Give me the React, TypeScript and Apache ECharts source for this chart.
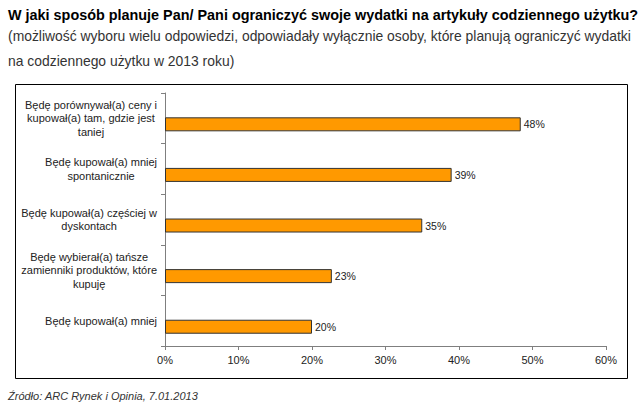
import React, { useEffect, useRef } from "react";
import * as echarts from "echarts";

const titleText = "W jaki sposób planuje Pan/ Pani ograniczyć swoje wydatki na artykuły codziennego użytku?";
const subtitleLines = [
  "(możliwość wyboru wielu odpowiedzi, odpowiadały wyłącznie osoby, które planują ograniczyć wydatki",
  "na codziennego użytku w 2013 roku)",
];
const sourceText = "Źródło: ARC Rynek i Opinia, 7.01.2013";

const categories = [
  "Będę porównywał(a) ceny i\nkupował(a) tam, gdzie jest\ntaniej",
  "Będę kupował(a) mniej\nspontanicznie",
  "Będę kupował(a) częściej w\ndyskontach",
  "Będę wybierał(a) tańsze\nzamienniki produktów, które\nkupuję",
  "Będę kupował(a) mniej",
];
const values = [48.4, 39, 35, 22.7, 20];
const xTicks = [0, 10, 20, 30, 40, 50, 60];

export default function App() {
  const ref = useRef<HTMLDivElement>(null);
  useEffect(() => {
    document.body.style.margin = "0";
    const chart = echarts.init(ref.current!, null, { renderer: "svg" });
    const font = "'Liberation Sans', Arial, sans-serif";
    chart.setOption({
      animation: false,
      backgroundColor: "#fff",
      textStyle: { fontFamily: font },
      grid: { left: 165, right: 34, top: 93, bottom: 58, containLabel: false },
      xAxis: {
        type: "value",
        min: xTicks[0],
        max: xTicks[xTicks.length - 1],
        interval: 10,
        axisLine: { show: true, lineStyle: { color: "#7f7f7f", width: 1 } },
        axisTick: { show: true, length: 4, lineStyle: { color: "#7f7f7f" } },
        splitLine: { show: false },
        axisLabel: {
          formatter: (v: number) => v + "%",
          color: "#222",
          fontSize: 11,
          margin: 8,
          fontFamily: font,
        },
      },
      yAxis: {
        type: "category",
        data: categories,
        inverse: true,
        axisLine: { show: true, lineStyle: { color: "#7f7f7f", width: 1 } },
        axisTick: { show: true, length: 4, lineStyle: { color: "#7f7f7f" } },
        axisLabel: {
          color: "#222",
          fontSize: 11,
          lineHeight: 13.5,
          margin: 8,
          fontFamily: font,
          formatter: (v: string) =>
            v
              .split("\n")
              .map((l) => "{c|" + l + "}")
              .join("\n"),
          rich: { c: { align: "center", fontSize: 11, lineHeight: 13.5, color: "#222", fontFamily: font } },
        },
      },
      series: [
        {
          type: "bar",
          name: "placeholder",
          data: values.map(() => "-"),
          barWidth: 14,
          barGap: "-14%",
          silent: true,
        },
        {
          type: "bar",
          name: "values",
          data: values,
          barWidth: 14,
          barGap: "-14%",
          itemStyle: { color: "#ff9900", borderColor: "#333", borderWidth: 1 },
          label: {
            show: true,
            position: "right",
            distance: 3,
            formatter: (p: any) => Math.round(p.value) + "%",
            color: "#222",
            fontSize: 10.5,
            fontFamily: font,
          },
        },
      ],
      graphic: [
        {
          type: "text",
          left: 8,
          top: 8,
          style: { text: titleText, font: "bold 14.4px " + font, fill: "#000" },
        },
        {
          type: "text",
          left: 8,
          top: 29,
          style: { text: subtitleLines[0], font: "13.9px " + font, fill: "#333" },
        },
        {
          type: "text",
          left: 8,
          top: 54,
          style: { text: subtitleLines[1], font: "13.9px " + font, fill: "#333" },
        },
        {
          type: "rect",
          shape: { x: 15.5, y: 84.5, width: 612, height: 294 },
          style: { fill: "none", stroke: "#000", lineWidth: 1 },
          silent: true,
        },
        {
          type: "text",
          left: 8,
          top: 390,
          style: { text: sourceText, font: "italic 11px " + font, fill: "#333" },
        },
      ],
    });
    return () => chart.dispose();
  }, []);
  return <div ref={ref} style={{ width: 640, height: 404 }} />;
}
